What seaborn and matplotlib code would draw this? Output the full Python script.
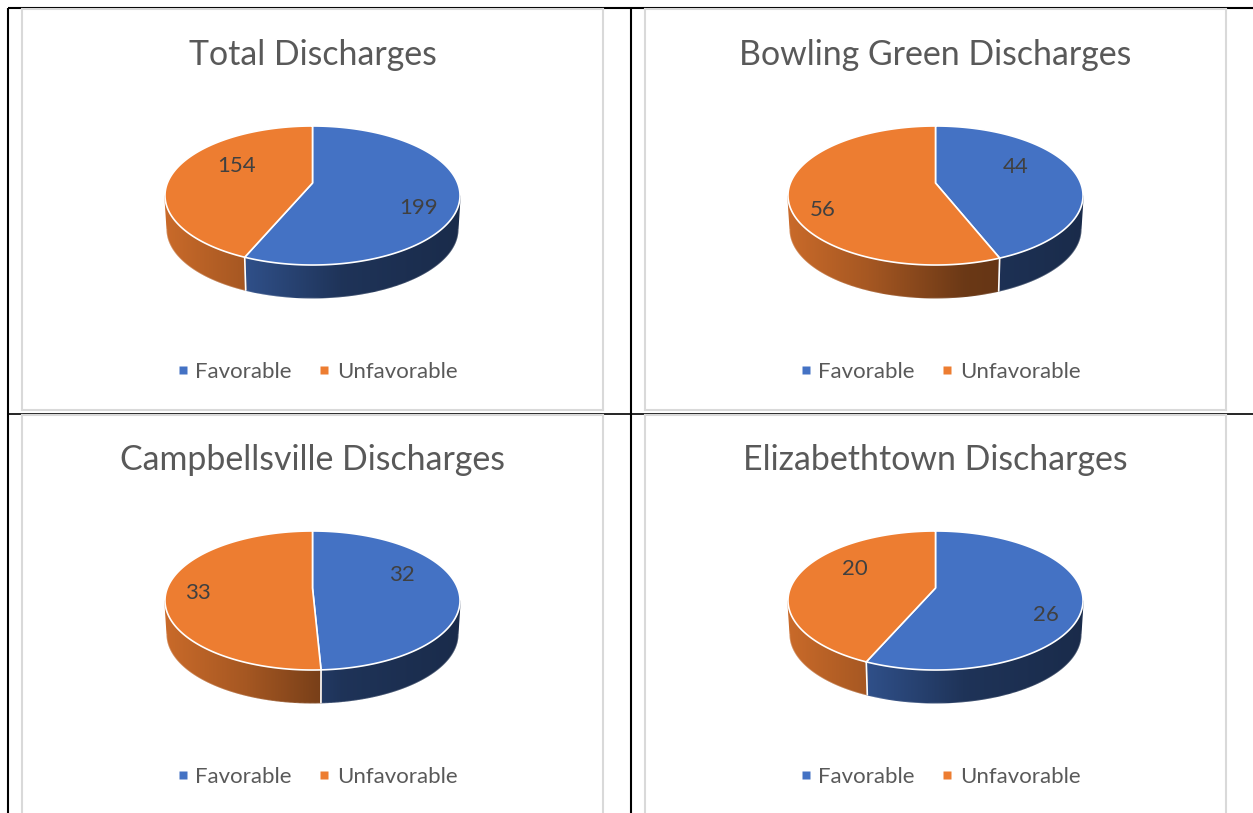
import numpy as np
import matplotlib
matplotlib.use("Agg")
import matplotlib.pyplot as plt
from matplotlib.collections import LineCollection
from matplotlib.lines import Line2D
from matplotlib.patches import Polygon
from matplotlib.colors import to_rgb
import seaborn as sns

# ---- data ----
titles = ["Total Discharges", "Bowling Green Discharges",
          "Campbellsville Discharges", "Elizabethtown Discharges"]
categories = ["Favorable", "Unfavorable"]
favorable = [199, 44, 32, 26]
unfavorable = [154, 56, 33, 20]

# ---- style ----
W, H = 1253, 813
sns.set_theme(style="white")
plt.rcParams["font.family"] = ["Lato", "DejaVu Sans"]
COLORS = sns.color_palette(["#4472C4", "#ED7D31"])
label_offsets = [[(106, 25), (-76, -17)], [(80, -16), (-113, 27)],
                 [(89, -13), (-115, 5)], [(110, 27), (-81, -19)]]
panel_boxes = [(22, 9, 581, 401), (645, 9, 581, 401),
               (22, 415, 581, 401), (645, 415, 581, 401)]
content_tops = [9, 9, 414, 414]
APEX_Y = 174
TITLE_Y, LEGEND_Y = 46, 363
K, A_Y, A_X = 0.18, 67.25, 145.1
DEPTH, BOTTOM_SCALE = 34, 0.985
SHADE_X = [0.0, 0.27, 0.6, 1.0]
SHADE_Y = [0.85, 0.70, 0.45, 0.38]
# the wall shows between the two points where the rim is widest
FRONT = (np.arccos(-K), 2 * np.pi - np.arccos(-K))


def project(theta, scale=1.0, drop=0.0):
    u, v = np.sin(theta), np.cos(theta)
    d = 1 + K * v
    return scale * A_X * u / d, scale * A_Y * (-v) / d + drop


def shade(x):
    half = A_X * 1.017
    return np.interp((np.asarray(x) + half) / (2 * half), SHADE_X, SHADE_Y)


fig = plt.figure(figsize=(W / 100, H / 100), dpi=100, facecolor="white")

# table rules behind the panels
rule = dict(color="black", solid_capstyle="butt", transform=None, zorder=-1)
for xs, ys, lw in [((8, 8), (0, H - 8), 1.5), ((631, 631), (0, H - 8), 1.5),
                   ((8, W), (H - 8, H - 8), 1.5), ((8, W), (H - 413.5, H - 413.5), 1.2)]:
    fig.add_artist(Line2D(xs, ys, lw=lw, **rule))

for i, (x0, y0, w, h) in enumerate(panel_boxes):
    top = content_tops[i] - y0
    ax = fig.add_axes([x0 / W, 1 - (y0 + h) / H, w / W, h / H], zorder=2)
    ax.set_xticks([])
    ax.set_yticks([])
    ax.set_facecolor("white")
    for s in ax.spines.values():
        s.set_color("#d9d9d9")
        s.set_linewidth(1.5)

    values = np.array([favorable[i], unfavorable[i]], float)
    edges = np.concatenate([[0], np.cumsum(values) / values.sum()]) * 2 * np.pi

    # side wall: a horizontal gradient clipped to the wall outline
    for j in range(2):
        lo, hi = max(edges[j], FRONT[0]), min(edges[j + 1], FRONT[1])
        if hi <= lo:
            continue
        base = np.array(to_rgb(COLORS[j]))
        th = np.linspace(lo, hi, 300)
        xt, yt = project(th)
        xb, yb = project(th, BOTTOM_SCALE, DEPTH)
        gx = np.linspace(min(xt.min(), xb.min()), max(xt.max(), xb.max()), 400)
        grad = (base[None, :] * shade(gx)[:, None])[None, :, :]
        im = ax.imshow(grad, extent=(gx[0], gx[-1], yb.max() + 1, yt.min() - 1),
                       aspect="auto", interpolation="bilinear", zorder=2)
        im.set_clip_path(Polygon(np.c_[np.r_[xt, xb[::-1]], np.r_[yt, yb[::-1]]],
                                 transform=ax.transData))
        # soft outer rim so the clipped gradient does not look jagged
        px = np.r_[xt[0], xb, xt[-1]]
        py = np.r_[yt[0], yb, yt[-1]]
        pts = np.c_[px, py]
        segs = np.stack([pts[:-1], pts[1:]], axis=1)
        cols = base[None, :] * shade(0.5 * (px[:-1] + px[1:]))[:, None]
        ax.add_collection(LineCollection(segs, colors=cols, linewidths=1.0, zorder=2.5))
    # white seams on the wall
    for e in edges[:-1]:
        if FRONT[0] < e < FRONT[1]:
            xt, yt = project(e)
            xb, yb = project(e, BOTTOM_SCALE, DEPTH)
            ax.plot([xt, xb], [yt, yb], color="white", lw=1.2, zorder=3)

    # top face
    for j in range(2):
        th = np.linspace(edges[j], edges[j + 1], 300)
        xt, yt = project(th)
        ax.fill(np.r_[0, xt], np.r_[0, yt], facecolor=COLORS[j], edgecolor="white",
                lw=1.2, joinstyle="round", zorder=4)
        dx, dy = label_offsets[i][j]
        ax.text(dx, dy, f"{int(values[j])}", ha="center", va="center",
                fontsize=16, color="#404040", zorder=5)

    ax.set_xlim(-w / 2, w / 2)
    ax.set_ylim(h - APEX_Y - top, -APEX_Y - top)

    ax.set_title(titles[i], y=1 - (top + TITLE_Y) / h, va="center", pad=0,
                 fontsize=24.4, color="#595959")

    handles = [Line2D([], [], ls="none", marker="s", ms=5.6, mfc=COLORS[j], mec="none",
                      label=categories[j]) for j in range(2)]
    ax.legend(handles=handles, ncols=2, loc="center", frameon=False,
              bbox_to_anchor=(0.5 + 1 / w, 1 - (top + LEGEND_Y) / h), fontsize=16,
              labelcolor="#595959", handletextpad=-0.04, columnspacing=0.86,
              handlelength=1.2)

fig.savefig("out.png", dpi=100, facecolor="white")
